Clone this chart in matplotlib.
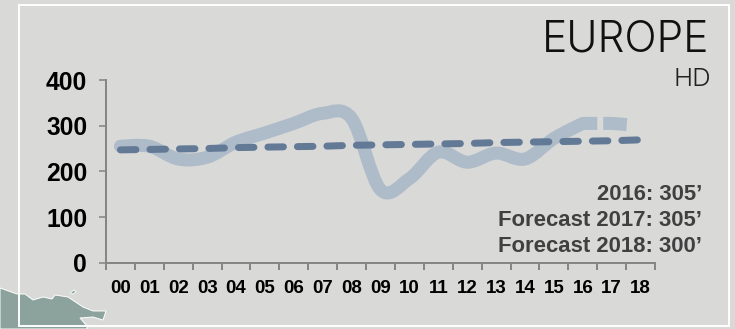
import matplotlib
matplotlib.use("Agg")
import matplotlib.pyplot as plt
import numpy as np
from matplotlib.path import Path
from matplotlib.patches import PathPatch, Polygon, Rectangle

plt.rcParams["lines.scale_dashes"] = False

W, H = 735, 329
PX = 72 / 100  # points per pixel at 100 dpi

years = ["00", "01", "02", "03", "04", "05", "06", "07", "08", "09",
         "10", "11", "12", "13", "14", "15", "16", "17", "18"]
hours = [255, 255, 227, 231, 264, 284, 305, 327, 316, 160,
         184, 242, 220, 240, 227, 272, 305, 305, 300]
trend = [247, 248, 249, 250, 252, 253, 254, 255, 257, 258,
         259, 260, 261, 263, 264, 265, 266, 267, 269]
y_ticks = [0, 100, 200, 300, 400]
notes = ["2016: 305’", "Forecast 2017: 305’", "Forecast 2018: 300’"]

BG = "#D9D9D8"
AXIS = "#868686"
LIGHT = "#AEBBC8"
DARK = "#637A96"
SEA = "#8BA39C"

fig = plt.figure(figsize=(W / 100, H / 100), dpi=100, facecolor=BG)

# Backdrop layer in pixel coordinates: coastline and white frame
bg = fig.add_axes([0, 0, 1, 1])
bg.set_xlim(0, W)
bg.set_ylim(H, 0)
bg.axis("off")
coast = [(0, 288), (17, 294), (25, 294), (33, 300), (43, 297), (52, 299), (55, 295),
         (68, 297), (83, 307), (93, 311), (106, 311), (103, 320), (93, 317),
         (80, 318), (87, 326), (87, 329), (0, 329)]
bg.add_patch(Polygon(coast, closed=True, fc=SEA, ec="white", lw=0.7))
bg.add_patch(Polygon([(70, 293), (74, 290), (76, 292), (73, 294)], closed=True,
                     fc=SEA, ec="white", lw=0.6))
bg.add_patch(Rectangle((19.5, 4.5), 710, 321, fc="none", ec="white", lw=1.4))

# Chart axes
left, right, top, bottom = 106, 655, 80, 262.7
ax = fig.add_axes([left / W, 1 - bottom / H, (right - left) / W, (bottom - top) / H])
ax.patch.set_alpha(0)
ax.set_xlim(-0.5, 18.5)
ax.set_ylim(0, 400)
for side in ("top", "right"):
    ax.spines[side].set_visible(False)
for side in ("left", "bottom"):
    ax.spines[side].set_color(AXIS)
    ax.spines[side].set_linewidth(2 * PX)

ax.set_yticks(y_ticks)
ax.set_yticklabels([str(v) for v in y_ticks], fontsize=17.7, fontweight="bold",
                   family="Liberation Sans", color="black")
ax.tick_params(axis="y", length=7 * PX, width=1.6 * PX, color=AXIS, pad=8.5)

x = np.arange(len(years))
ax.set_xticks(np.append(x - 0.5, x[-1] + 0.5))
ax.set_xticklabels([""] * (len(years) + 1))
ax.tick_params(axis="x", which="major", length=7 * PX, width=2 * PX, color=AXIS)
ax.set_xticks(x, minor=True)
ax.set_xticklabels(years, minor=True, fontsize=13.5, fontweight="bold",
                   family="Liberation Sans", color="black")
ax.tick_params(axis="x", which="minor", length=0, pad=12.5)


def smooth_path(xs, ys):
    """Bezier path through the points, with tangents taken from the neighbours."""
    pts = np.column_stack([xs, ys]).astype(float)
    verts, codes = [pts[0]], [Path.MOVETO]
    for i in range(len(pts) - 1):
        before = pts[max(i - 1, 0)]
        after = pts[min(i + 2, len(pts) - 1)]
        verts += [pts[i] + (pts[i + 1] - before) / 6,
                  pts[i + 1] - (after - pts[i]) / 6,
                  pts[i + 1]]
        codes += [Path.CURVE4] * 3
    return Path(verts, codes)


# Observed years as a smooth thick line, forecast years broken into a dash
last_actual = years.index("16")
ax.add_patch(PathPatch(smooth_path(x[:last_actual + 1], hours[:last_actual + 1]),
                       fc="none", ec=LIGHT, lw=13 * PX, capstyle="round",
                       joinstyle="round", zorder=2))
ax.plot(x[last_actual:], hours[last_actual:], color=LIGHT, lw=13 * PX,
        dash_capstyle="butt", zorder=2,
        dashes=(14.5 * PX, 6 * PX, 23.5 * PX, 200 * PX))

# Linear trend
ax.plot(x, trend, color=DARK, lw=7 * PX, dash_capstyle="round", zorder=3,
        dashes=(15.5 * PX, 14 * PX))

# Headings and notes
fig.text(709.5 / W, 1 - 52 / H, "EUROPE", ha="right", va="baseline", fontsize=30.5,
         family="Inter", fontweight=300, color="#111111")
fig.text(711 / W, 1 - 86 / H, "HD", ha="right", va="baseline", fontsize=18.5,
         family="Inter", fontweight=300, color="#222222")
for text, base in zip(notes, [200, 226, 252]):
    fig.text(702 / W, 1 - base / H, text, ha="right", va="baseline", fontsize=15.9,
             fontweight="bold", family="Liberation Sans", color="#404040")

fig.savefig("out.png", dpi=100, facecolor=BG)
